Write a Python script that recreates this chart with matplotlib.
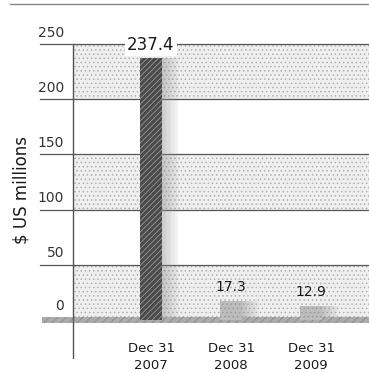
import matplotlib
matplotlib.use("Agg")
import matplotlib.pyplot as plt
from matplotlib.patches import Rectangle
from matplotlib.lines import Line2D

plt.rcParams['font.family'] = ['DejaVu Sans']
plt.rcParams['hatch.linewidth'] = 0.6

# Data
categories = ["Dec 31\n2007", "Dec 31\n2008", "Dec 31\n2009"]
values = [237.4, 17.3, 12.9]
value_labels = ["237.4", "17.3", "12.9"]
y_ticks = [0, 50, 100, 150, 200, 250]
y_label = "$ US millions"

W, H = 369, 372
fig = plt.figure(figsize=(W / 100, H / 100), dpi=100)
fig.patch.set_facecolor("white")

ax = fig.add_axes([73 / W, 14 / H, 296 / W, 314 / H])
ax.set_xlim(-0.975, 2.725)
ax.set_ylim(-34.4, 250)
ax.set_facecolor("white")

# Alternating stippled bands
for lo in y_ticks[:-1]:
    if (lo // 50) % 2 == 0:
        ax.axhspan(lo, lo + 50, facecolor="#efefef", edgecolor="#b0b0b0",
                   hatch="....", linewidth=0, zorder=0)

# Gridlines extending left past the axis
yt = ax.get_yaxis_transform()
for v in y_ticks[1:]:
    ax.add_line(Line2D([-0.111, 1.0], [v, v], transform=yt, color="#555555",
                       linewidth=0.9, clip_on=False, zorder=1))
    ax.text(-0.03, v + 4, str(v), transform=yt, ha="right", va="bottom",
            fontsize=10, color="#333333")
ax.text(-0.03, 6.5, "0", transform=yt, ha="right", va="bottom",
        fontsize=10, color="#333333")

# Thick baseline band at zero
ax.add_patch(Rectangle((-0.105, -2.7), 1.105, 5.4, transform=yt,
                       facecolor="#ababab", edgecolor="#8a8a8a", hatch="////",
                       linewidth=0, clip_on=False, zorder=3))

x = list(range(len(categories)))
bw = 0.28

# Soft fading shadows to the right of the bars
n_strips = 7
for xi, v in zip(x, values):
    for k in range(n_strips):
        left = xi + bw / 2 + k * bw * 0.11
        ax.add_patch(Rectangle((left, 0), bw * 0.11, v,
                               facecolor="#8c8c8c", linewidth=0,
                               alpha=0.42 * (1 - k / n_strips), zorder=2))

# Bars
ax.bar(x[0], values[0], width=bw, color="#4a4a4a", edgecolor="#9a9a9a",
       hatch="//////", linewidth=0, zorder=4)
for xi, v in zip(x[1:], values[1:]):
    ax.bar(xi, v, width=bw, color="#bdbdbd", edgecolor="#999999",
           hatch="....", linewidth=0, zorder=4)

# Value labels
ax.text(x[0], values[0] + 11.5, value_labels[0], ha="center", va="center",
        fontsize=12, color="#1a1a1a", zorder=6,
        bbox=dict(facecolor="white", edgecolor="none", pad=1.5))
for xi, v, lab in zip(x[1:], values[1:], value_labels[1:]):
    ax.text(xi, v + 12.5, lab, ha="center", va="center", fontsize=10,
            color="#1a1a1a", zorder=6)

# Category labels under the baseline
for xi, c in zip(x, categories):
    ax.text(xi, -19.5, c, ha="center", va="top", fontsize=9.5,
            color="#1a1a1a", linespacing=1.45, zorder=6)

for s in ["top", "right", "bottom"]:
    ax.spines[s].set_visible(False)
ax.spines["left"].set_color("#555555")
ax.spines["left"].set_linewidth(1.0)
ax.spines["left"].set_zorder(5)
ax.set_xticks([])
ax.set_yticks([])

fig.text(22 / W, 1 - 190 / H, y_label, rotation=90, ha="center", va="center",
         fontsize=12, color="#1a1a1a")

# Rule across the top
fig.add_artist(Line2D([10 / W, 1.0], [1 - 4 / H, 1 - 4 / H], color="#888888",
                      linewidth=1.0, transform=fig.transFigure))

fig.savefig("out.png", dpi=100, facecolor="white")
